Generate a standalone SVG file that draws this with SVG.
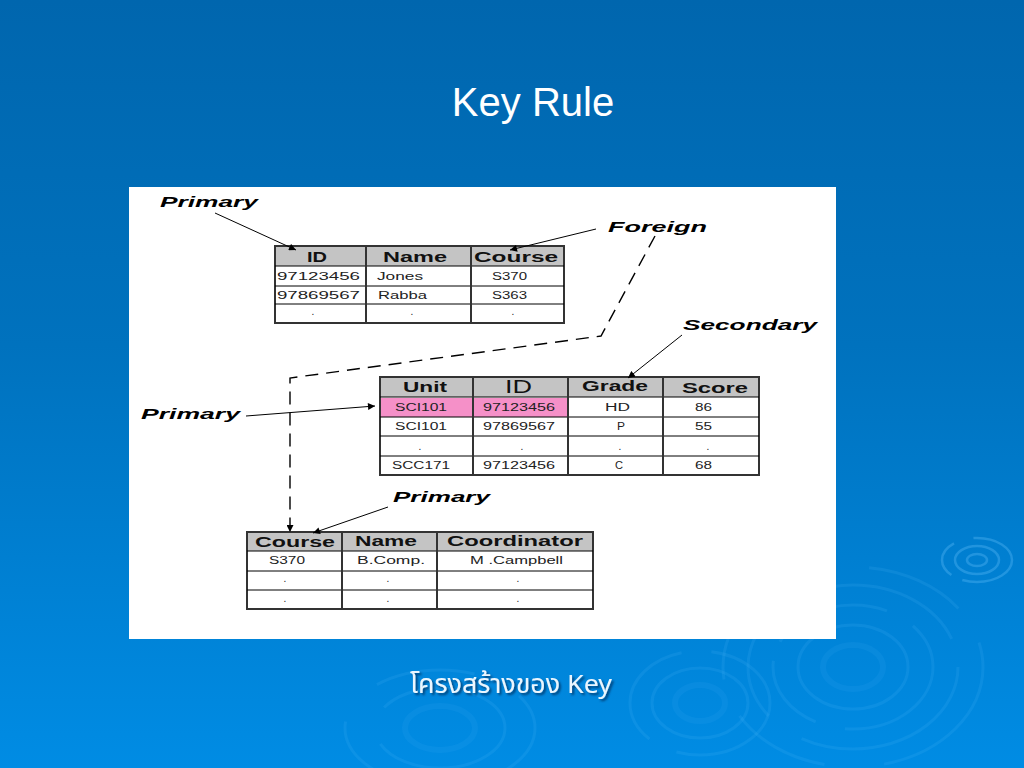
<svg xmlns="http://www.w3.org/2000/svg" width="1024" height="768" viewBox="0 0 1024 768">
<defs>
  <linearGradient id="bg" x1="0" y1="0" x2="0" y2="1">
    <stop offset="0" stop-color="#0066AE"/>
    <stop offset="0.45" stop-color="#0072BE"/>
    <stop offset="1" stop-color="#008CE4"/>
  </linearGradient>
  <marker id="ah" viewBox="0 0 10 10" refX="10" refY="5" markerWidth="9" markerHeight="7" markerUnits="userSpaceOnUse" orient="auto">
    <path d="M0,0 L10,5 L0,10 z" fill="#000"/>
  </marker>
  <filter id="shadow" x="-10%" y="-30%" width="120%" height="160%">
    <feDropShadow dx="2" dy="2" stdDeviation="0.8" flood-color="#003060" flood-opacity="0.8"/>
  </filter>
  <style>
    .rip{fill:none;stroke:#5EC0FF;stroke-opacity:0.13;stroke-width:3}
    .rips{fill:none;stroke:#6CC8FF;stroke-opacity:0.3;stroke-width:2.5}
    .ripf{fill:none;stroke:#5EC0FF;stroke-opacity:0.09;stroke-width:6}
    .hdr{font-family:"Liberation Sans",Arial,sans-serif;font-weight:bold;font-size:14px;fill:#111}
    .hdrn{font-family:"Liberation Sans",Arial,sans-serif;font-size:18px;fill:#111}
    .cell{font-family:"Liberation Sans",Arial,sans-serif;font-size:10px;fill:#222}
    .lbl{font-family:"Liberation Sans",Arial,sans-serif;font-weight:bold;font-style:italic;font-size:14px;fill:#000}
    .hfill{fill:#C4C4C4}
    .outer{fill:#fff;stroke:#333;stroke-width:2}
    .vl{stroke:#333;stroke-width:2}
    .hl{stroke:#000;stroke-width:1}
    .arrow{stroke:#000;stroke-width:1;fill:none}
    .dash{stroke:#000;stroke-width:1.4;fill:none;stroke-dasharray:13 8}
  </style>
</defs>

<g id="background">
  <rect x="0" y="0" width="1024" height="768" fill="url(#bg)"/>
  <g>
    <ellipse class="rips" cx="977" cy="560" rx="10" ry="6"/>
    <ellipse class="rips" cx="977" cy="560" rx="22" ry="14"/>
    <ellipse class="rips" cx="977" cy="560" rx="35" ry="22" stroke-dasharray="60 12 40 20"/>
    <ellipse class="ripf" cx="853" cy="667" rx="30" ry="22"/>
    <ellipse class="rip" cx="853" cy="667" rx="55" ry="42"/>
    <ellipse class="rip" cx="853" cy="667" rx="80" ry="62" stroke-dasharray="120 30 80 20"/>
    <ellipse class="rip" cx="853" cy="667" rx="105" ry="82" stroke-dasharray="200 40 90 30"/>
    <ellipse class="rip" cx="853" cy="667" rx="130" ry="100" stroke-dasharray="150 60 100 40"/>
    <ellipse class="ripf" cx="700" cy="703" rx="25" ry="18"/>
    <ellipse class="rip" cx="700" cy="703" rx="48" ry="35"/>
    <ellipse class="rip" cx="700" cy="703" rx="70" ry="52" stroke-dasharray="120 30"/>
    <ellipse class="ripf" cx="440" cy="728" rx="35" ry="22"/>
    <ellipse class="rip" cx="440" cy="728" rx="65" ry="40" stroke-dasharray="150 40"/>
    <ellipse class="rip" cx="440" cy="728" rx="95" ry="58" stroke-dasharray="100 50"/>
  </g>
</g>

<text id="title" x="533" y="116" text-anchor="middle" font-family="Liberation Sans, Arial, sans-serif" font-size="40" fill="#fff">Key Rule</text>

<rect id="panel" x="129" y="187" width="707" height="452" fill="#fff"/>

<g id="table-student">
  <rect class="outer" x="275" y="246" width="289" height="77"/>
  <rect class="hfill" x="276" y="247" width="287" height="19"/>
  <line class="hl" x1="275" y1="266" x2="564" y2="266" stroke-width="2"/>
  <line class="hl" x1="275" y1="286" x2="564" y2="286"/>
  <line class="hl" x1="275" y1="304" x2="564" y2="304"/>
  <line class="vl" x1="366" y1="246" x2="366" y2="323"/>
  <line class="vl" x1="471" y1="246" x2="471" y2="323"/>
  <text class="hdr" x="307" y="262" textLength="20" lengthAdjust="spacingAndGlyphs">ID</text>
  <text class="hdr" x="383" y="262" textLength="64" lengthAdjust="spacingAndGlyphs">Name</text>
  <text class="hdr" x="474" y="262" textLength="84" lengthAdjust="spacingAndGlyphs">Course</text>
  <text class="cell" x="277" y="280" textLength="83" lengthAdjust="spacingAndGlyphs">97123456</text>
  <text class="cell" x="377" y="280" textLength="46" lengthAdjust="spacingAndGlyphs">Jones</text>
  <text class="cell" x="492" y="280" textLength="35" lengthAdjust="spacingAndGlyphs">S370</text>
  <text class="cell" x="277" y="299" textLength="83" lengthAdjust="spacingAndGlyphs">97869567</text>
  <text class="cell" x="378" y="299" textLength="49" lengthAdjust="spacingAndGlyphs">Rabba</text>
  <text class="cell" x="492" y="299" textLength="35" lengthAdjust="spacingAndGlyphs">S363</text>
  <text class="cell" x="313" y="315" text-anchor="middle">.</text>
  <text class="cell" x="412" y="315" text-anchor="middle">.</text>
  <text class="cell" x="513" y="315" text-anchor="middle">.</text>
</g>

<g id="table-enrolment">
  <rect class="outer" x="380" y="377" width="379" height="98"/>
  <rect class="hfill" x="381" y="378" width="377" height="19"/>
  <rect x="381" y="398" width="187" height="19" fill="#F590C8"/>
  <line class="hl" x1="380" y1="397" x2="759" y2="397" stroke-width="2"/>
  <line class="hl" x1="380" y1="417" x2="759" y2="417"/>
  <line class="hl" x1="380" y1="436" x2="759" y2="436"/>
  <line class="hl" x1="380" y1="456" x2="759" y2="456"/>
  <line class="vl" x1="473" y1="377" x2="473" y2="475"/>
  <line class="vl" x1="568" y1="377" x2="568" y2="475"/>
  <line class="vl" x1="663" y1="377" x2="663" y2="475"/>
  <text class="hdr" x="403" y="392" textLength="44" lengthAdjust="spacingAndGlyphs">Unit</text>
  <text class="hdrn" x="505" y="393" textLength="27" lengthAdjust="spacingAndGlyphs">ID</text>
  <text class="hdr" x="582" y="391" textLength="66" lengthAdjust="spacingAndGlyphs">Grade</text>
  <text class="hdr" x="682" y="393" textLength="66" lengthAdjust="spacingAndGlyphs">Score</text>
  <text class="cell" x="395" y="411" textLength="52" lengthAdjust="spacingAndGlyphs">SCI101</text>
  <text class="cell" x="483" y="411" textLength="72" lengthAdjust="spacingAndGlyphs">97123456</text>
  <text class="cell" x="605" y="411" textLength="25" lengthAdjust="spacingAndGlyphs">HD</text>
  <text class="cell" x="695" y="411" textLength="17" lengthAdjust="spacingAndGlyphs">86</text>
  <text class="cell" x="395" y="430" textLength="52" lengthAdjust="spacingAndGlyphs">SCI101</text>
  <text class="cell" x="483" y="430" textLength="72" lengthAdjust="spacingAndGlyphs">97869567</text>
  <text class="cell" x="617" y="430" textLength="8" lengthAdjust="spacingAndGlyphs">P</text>
  <text class="cell" x="695" y="430" textLength="17" lengthAdjust="spacingAndGlyphs">55</text>
  <text class="cell" x="420" y="450" text-anchor="middle">.</text>
  <text class="cell" x="522" y="450" text-anchor="middle">.</text>
  <text class="cell" x="620" y="450" text-anchor="middle">.</text>
  <text class="cell" x="708" y="450" text-anchor="middle">.</text>
  <text class="cell" x="392" y="469" textLength="58" lengthAdjust="spacingAndGlyphs">SCC171</text>
  <text class="cell" x="483" y="469" textLength="72" lengthAdjust="spacingAndGlyphs">97123456</text>
  <text class="cell" x="615" y="469" textLength="8" lengthAdjust="spacingAndGlyphs">C</text>
  <text class="cell" x="695" y="469" textLength="17" lengthAdjust="spacingAndGlyphs">68</text>
</g>

<g id="table-course">
  <rect class="outer" x="247" y="532" width="346" height="77"/>
  <rect class="hfill" x="248" y="533" width="344" height="18"/>
  <line class="hl" x1="247" y1="551" x2="593" y2="551" stroke-width="2"/>
  <line class="hl" x1="247" y1="571" x2="593" y2="571"/>
  <line class="hl" x1="247" y1="590" x2="593" y2="590"/>
  <line class="vl" x1="342" y1="532" x2="342" y2="609"/>
  <line class="vl" x1="437" y1="532" x2="437" y2="609"/>
  <text class="hdr" x="255" y="547" textLength="80" lengthAdjust="spacingAndGlyphs">Course</text>
  <text class="hdr" x="355" y="546" textLength="62" lengthAdjust="spacingAndGlyphs">Name</text>
  <text class="hdr" x="447" y="546" textLength="136" lengthAdjust="spacingAndGlyphs">Coordinator</text>
  <text class="cell" x="269" y="564" textLength="36" lengthAdjust="spacingAndGlyphs">S370</text>
  <text class="cell" x="357" y="564" textLength="68" lengthAdjust="spacingAndGlyphs">B.Comp.</text>
  <text class="cell" x="470" y="564" textLength="93" lengthAdjust="spacingAndGlyphs">M .Campbell</text>
  <text class="cell" x="285" y="582" text-anchor="middle">.</text>
  <text class="cell" x="388" y="582" text-anchor="middle">.</text>
  <text class="cell" x="518" y="582" text-anchor="middle">.</text>
  <text class="cell" x="285" y="602" text-anchor="middle">.</text>
  <text class="cell" x="388" y="602" text-anchor="middle">.</text>
  <text class="cell" x="518" y="602" text-anchor="middle">.</text>
</g>

<g id="label-primary-1"><text class="lbl" x="160" y="207" textLength="98" lengthAdjust="spacingAndGlyphs">Primary</text></g>
<g id="label-foreign"><text class="lbl" x="608" y="232" textLength="99" lengthAdjust="spacingAndGlyphs">Foreign</text></g>
<g id="label-secondary"><text class="lbl" x="683" y="330" textLength="134" lengthAdjust="spacingAndGlyphs">Secondary</text></g>
<g id="label-primary-2"><text class="lbl" x="141" y="419" textLength="99" lengthAdjust="spacingAndGlyphs">Primary</text></g>
<g id="label-primary-3"><text class="lbl" x="393" y="502" textLength="97" lengthAdjust="spacingAndGlyphs">Primary</text></g>

<g id="connectors">
  <line class="arrow" x1="215" y1="213" x2="296" y2="250" marker-end="url(#ah)"/>
  <line class="arrow" x1="596" y1="229" x2="510" y2="250" marker-end="url(#ah)"/>
  <line class="arrow" x1="682" y1="335" x2="628" y2="378" marker-end="url(#ah)"/>
  <line class="arrow" x1="246" y1="416" x2="375" y2="406" marker-end="url(#ah)"/>
  <line class="arrow" x1="388" y1="507" x2="313" y2="533" marker-end="url(#ah)"/>
  <path class="dash" d="M655,236 L601,336 L290,378 L290,532" marker-end="url(#ah)"/>
</g>

<text id="caption" x="410" y="693" textLength="202" lengthAdjust="spacingAndGlyphs" font-family="Noto Sans Thai, Noto Sans, DejaVu Sans, Liberation Sans, sans-serif" font-size="26" fill="#EAF6FF" filter="url(#shadow)">โครงสร้างของ Key</text>
</svg>
